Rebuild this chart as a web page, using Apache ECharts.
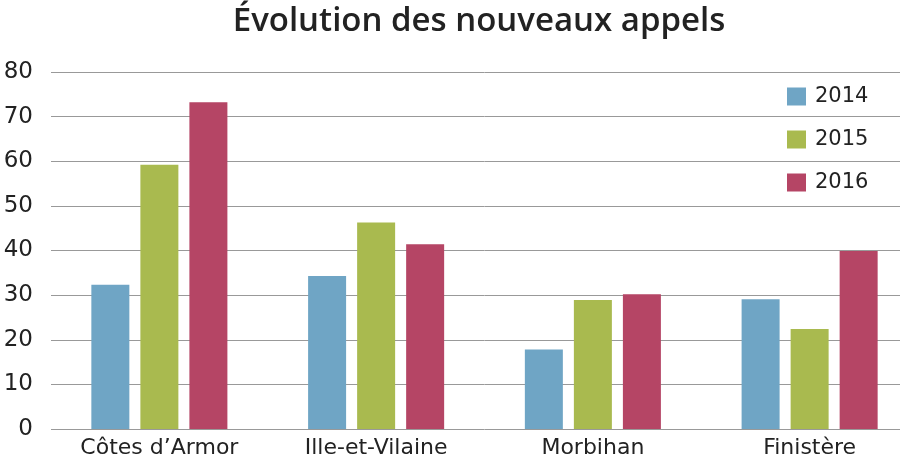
<!DOCTYPE html>
<html><head><meta charset="utf-8">
<script src="https://cdn.jsdelivr.net/npm/echarts@6/dist/echarts.min.js"></script>
<style>html,body{margin:0;padding:0;background:#fff;overflow:hidden;width:900px;height:462px}#c{width:918px;height:462px}</style>
</head><body><div id="c"></div>
<script>
const categories = ["Côtes d’Armor", "Ille-et-Vilaine", "Morbihan", "Finistère"];
const years = ["2014", "2015", "2016"];
const values2014 = [32.3, 34.3, 17.8, 29.1];
const values2015 = [59.2, 46.3, 28.9, 22.4];
const values2016 = [73.2, 41.4, 30.2, 39.9];
const yTicks = [0, 80, 10];
const titleText = "Évolution des nouveaux appels";
const colors = ["#6fa5c5", "#a9ba4f", "#b54565"];

const font = "DejaVu Sans";
const chart = echarts.init(document.getElementById('c'), null, {renderer: 'canvas'});
const seriesData = [values2014, values2015, values2016];
chart.setOption({
  animation: false,
  title: {text: titleText, left: 474, textAlign: 'center', top: 0,
    textStyle: {fontFamily: "Open Sans", fontSize: 33, fontWeight: 600, color: '#222'}},
  legend: {orient: 'vertical', left: 782, top: 81, itemWidth: 19, itemHeight: 18, itemGap: 22,
    icon: 'rect', textStyle: {fontFamily: font, fontSize: 21, color: '#222', padding: [0,0,0,4]},
    data: years},
  grid: {left: 51, top: 72, right: 0, bottom: 33, containLabel: false},
  xAxis: {type: 'category', data: categories,
    axisLine: {show: false}, axisTick: {show: false},
    axisLabel: {fontFamily: font, fontSize: 22, color: '#222', margin: 8}},
  yAxis: {type: 'value', min: yTicks[0], max: yTicks[1], interval: yTicks[2],
    axisLine: {show: false}, axisTick: {show: false},
    splitLine: {lineStyle: {color: '#999', width: 1}},
    axisLabel: {fontFamily: font, fontSize: 23, color: '#222', margin: 18}},
  series: years.map((y, i) => ({name: y, type: 'bar', data: seriesData[i], barWidth: 38, barGap: '29%',
    itemStyle: {color: colors[i]}}))
});
</script></body></html>
